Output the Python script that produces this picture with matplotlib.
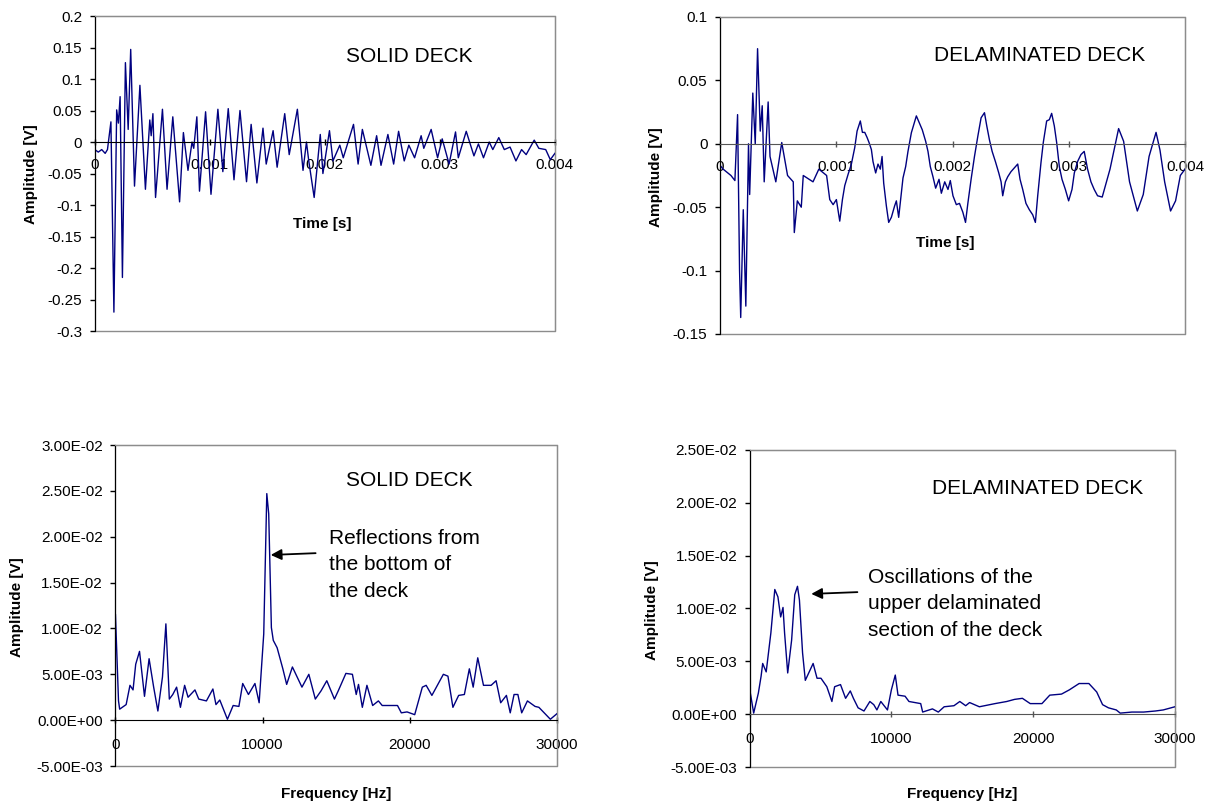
import matplotlib
matplotlib.use("Agg")
import matplotlib.pyplot as plt
from matplotlib.patches import Rectangle
from matplotlib.ticker import FuncFormatter, MultipleLocator
import numpy as np

plt.rcParams['font.family'] = ['Liberation Sans', 'DejaVu Sans']

# ---- time signals (time in ms, amplitude in V) ----
solid_t_ms = [0.0, 0.03, 0.06, 0.09, 0.11, 0.14, 0.166, 0.19, 0.205, 0.22,
              0.24, 0.266, 0.29, 0.312, 0.345, 0.392, 0.44, 0.478, 0.49, 0.505,
              0.528, 0.588, 0.628, 0.678, 0.737, 0.77, 0.81, 0.845, 0.86, 0.887,
              0.91, 0.963, 1.01, 1.07, 1.113, 1.16, 1.21, 1.262, 1.319, 1.359,
              1.409, 1.462, 1.49, 1.55, 1.585, 1.651, 1.69, 1.761, 1.81, 1.84,
              1.86, 1.907, 1.96, 1.983, 2.04, 2.07, 2.13, 2.16, 2.249, 2.289,
              2.326, 2.4, 2.45, 2.488, 2.548, 2.598, 2.641, 2.69, 2.73, 2.78,
              2.837, 2.86, 2.924, 2.98, 3.02, 3.08, 3.136, 3.16, 3.229, 3.296,
              3.335, 3.379, 3.429, 3.46, 3.512, 3.56, 3.61, 3.661, 3.71, 3.75,
              3.82, 3.86, 3.92, 3.96, 4.0]
solid_v = [-0.012, -0.016, -0.012, -0.018, -0.012, 0.032, -0.27, 0.051, 0.03, 0.072,
           -0.215, 0.126, 0.02, 0.147, -0.07, 0.09, -0.075, 0.035, 0.01, 0.045,
           -0.088, 0.052, -0.075, 0.04, -0.095, 0.015, -0.045, 0.0, -0.01, 0.04,
           -0.078, 0.048, -0.083, 0.052, -0.047, 0.053, -0.06, 0.05, -0.063, 0.028,
           -0.065, 0.022, -0.035, 0.018, -0.04, 0.045, -0.02, 0.052, -0.045, 0.0,
           -0.03, -0.088, 0.012, -0.05, 0.018, -0.03, -0.005, -0.025, 0.028, -0.035,
           0.02, -0.037, 0.01, -0.037, 0.012, -0.035, 0.017, -0.03, -0.005, -0.025,
           0.01, -0.01, 0.02, -0.025, 0.005, -0.035, 0.016, -0.025, 0.017, -0.022,
           -0.003, -0.025, 0.0, -0.012, 0.007, -0.012, -0.008, -0.03, -0.012, -0.02,
           0.003, -0.01, -0.012, -0.028, -0.018]

delam_t_ms = [0.0, 0.027, 0.094, 0.128, 0.151, 0.168, 0.178, 0.2, 0.222, 0.245,
              0.255, 0.282, 0.303, 0.323, 0.346, 0.363, 0.38, 0.414, 0.43, 0.48,
              0.531, 0.581, 0.63, 0.639, 0.665, 0.699, 0.716, 0.80, 0.85, 0.917,
              0.944, 0.973, 1.001, 1.030, 1.053, 1.073, 1.102, 1.130, 1.159, 1.179,
              1.207, 1.225, 1.245, 1.265, 1.282, 1.302, 1.316, 1.339, 1.359, 1.379,
              1.394, 1.408, 1.431, 1.451, 1.474, 1.502, 1.517, 1.537, 1.554, 1.574,
              1.597, 1.617, 1.646, 1.666, 1.689, 1.712, 1.740, 1.769, 1.789, 1.809,
              1.832, 1.855, 1.884, 1.904, 1.933, 1.961, 1.981, 2.004, 2.033,
              2.060, 2.089, 2.112, 2.132, 2.160, 2.189, 2.218, 2.246, 2.275, 2.295,
              2.318, 2.341, 2.369, 2.398, 2.418, 2.432, 2.455, 2.475, 2.503, 2.532,
              2.561, 2.581, 2.604, 2.632, 2.661, 2.690, 2.713, 2.733, 2.761, 2.781,
              2.810, 2.833, 2.853, 2.876, 2.896, 2.919, 2.942, 2.971, 2.999, 3.028,
              3.048, 3.076, 3.105, 3.133, 3.162, 3.191, 3.219, 3.248,
              3.288, 3.355, 3.429, 3.472, 3.523, 3.59, 3.641, 3.691, 3.751, 3.785,
              3.825, 3.876, 3.919, 3.96, 4.0]
delam_v = [-0.017, -0.02, -0.025, -0.029, 0.023, -0.1, -0.137, -0.052, -0.128, 0.0,
           -0.04, 0.04, 0.0, 0.075, 0.01, 0.03, -0.03, 0.033, -0.01, -0.03,
           0.001, -0.025, -0.03, -0.07, -0.045, -0.05, -0.025, -0.03, -0.02, -0.025,
           -0.044, -0.048, -0.044, -0.061, -0.044, -0.033, -0.024, -0.016, -0.003, 0.010,
           0.018, 0.009, 0.009, 0.005, 0.001, -0.0045, -0.014, -0.023, -0.016, -0.020,
           -0.010, -0.031, -0.049, -0.062, -0.058, -0.049, -0.045, -0.058, -0.044, -0.027,
           -0.018, -0.006, 0.0087, 0.015, 0.022, 0.017, 0.011, 0.002, -0.006, -0.018,
           -0.026, -0.035, -0.028, -0.039, -0.030, -0.036, -0.029, -0.041, -0.048,
           -0.047, -0.054, -0.062, -0.047, -0.028, -0.010, 0.006, 0.0205, 0.0245, 0.014,
           0.003, -0.006, -0.014, -0.023, -0.030, -0.041, -0.030, -0.026, -0.022, -0.019,
           -0.016, -0.028, -0.036, -0.047, -0.052, -0.056, -0.062, -0.041, -0.015, 0.001,
           0.018, 0.019, 0.024, 0.014, 0.001, -0.018, -0.028, -0.036, -0.045, -0.036,
           -0.023, -0.014, -0.0085, -0.006, -0.020, -0.030, -0.036, -0.041,
           -0.042, -0.02, 0.012, 0.002, -0.03, -0.053, -0.04, -0.01, 0.009, -0.005,
           -0.03, -0.053, -0.045, -0.025, -0.02]

# ---- spectra (frequency in Hz, amplitude in V) ----
solid_f = [0, 208, 286, 727, 987, 1195, 1377, 1636, 1974, 2286,
           2597, 2883, 3195, 3428, 3662, 3896, 4156, 4416, 4701, 4935,
           5403, 5662, 6182, 6623, 6831, 7091, 7610, 8000, 8390, 8649,
           9039, 9480, 9766, 10078, 10286, 10416, 10597, 10727, 10987, 11377,
           11636, 12026, 12675, 13143, 13584, 13974, 14364, 14883, 15143, 15662,
           16104, 16364, 16519, 16779, 17091, 17481, 17870, 18130, 19169, 19429,
           19818, 20338, 20857, 21117, 21506, 22286, 22597, 22935, 23325, 23714,
           24052, 24312, 24623, 25013, 25532, 25870, 26182, 26571, 26831, 27091,
           27351, 27610, 28000, 28519, 28779, 29558, 30000]
solid_a = [0.0115, 0.0021, 0.0012, 0.0017, 0.0038, 0.0033, 0.0061, 0.0075, 0.0026, 0.0067,
           0.0036, 0.001, 0.0047, 0.0105, 0.0023, 0.0028, 0.0036, 0.0014, 0.0038, 0.0025,
           0.0033, 0.0023, 0.0021, 0.0034, 0.0017, 0.0022, 0.0001, 0.0016, 0.0015, 0.004,
           0.0028, 0.004, 0.0019, 0.0094, 0.0247, 0.0225, 0.0101, 0.0087, 0.0079, 0.0056,
           0.0039, 0.0058, 0.0036, 0.005, 0.0023, 0.0032, 0.0043, 0.0023, 0.0032, 0.0051,
           0.005, 0.0028, 0.0039, 0.0014, 0.0038, 0.0016, 0.0021, 0.0016, 0.0016, 0.0008,
           0.0009, 0.0006, 0.0036, 0.0038, 0.0027, 0.005, 0.0048, 0.0014, 0.0027, 0.0028,
           0.0056, 0.0036, 0.0068, 0.0038, 0.0038, 0.0043, 0.0019, 0.0027, 0.0008, 0.0028,
           0.0028, 0.0008, 0.0021, 0.0015, 0.0014, 0.0001, 0.0007]

delam_f = [0, 41, 276, 607, 800, 911, 1159, 1490, 1766, 1987,
           2180, 2346, 2456, 2677, 2953, 3174, 3367, 3505, 3726, 3919,
           4195, 4471, 4747, 5023, 5437, 5796, 5989, 6403, 6762, 7093,
           7314, 7645, 8060, 8474, 8750, 8971, 9247, 9716, 9992, 10268,
           10461, 10958, 11234, 12062, 12200, 12890, 13304, 13718, 14408, 14822,
           15236, 15512, 16202, 17306, 18134, 18686, 19238, 19790, 20618, 21170,
           21998, 22550, 23240, 23930, 24482, 24896, 25310, 25862, 26139, 26967,
           27795, 28623, 29175, 30000]
delam_a = [0.0226, 0.002, 0.0001, 0.002, 0.0036, 0.0048, 0.004, 0.0077, 0.0118, 0.0111,
           0.0092, 0.0101, 0.0077, 0.0039, 0.007, 0.0113, 0.0121, 0.0108, 0.0058, 0.0032,
           0.004, 0.0048, 0.0034, 0.0034, 0.0026, 0.0012, 0.0026, 0.0028, 0.0015, 0.0022,
           0.0015, 0.0006, 0.0003, 0.0012, 0.0009, 0.0004, 0.0012, 0.0004, 0.0023, 0.0037,
           0.0018, 0.0017, 0.0012, 0.001, 0.0002, 0.0005, 0.0002, 0.0007, 0.0008, 0.0012,
           0.0008, 0.0011, 0.0007, 0.001, 0.0012, 0.0014, 0.0015, 0.001, 0.001, 0.0018,
           0.0019, 0.0023, 0.0029, 0.0029, 0.0021, 0.0009, 0.0006, 0.0004, 0.0001, 0.0002,
           0.0002, 0.0003, 0.0004, 0.0007]

LINE = '#000080'
BORDER = '#8c8c8c'
TICK_FS = 11
LABEL_FS = 11
NOTE_FS = 15


def style_axes(ax, zero_color, yfmt, xpad):
    for side in ['top', 'right']:
        ax.spines[side].set_color(BORDER)
    ax.spines['left'].set_color('black')
    ax.spines['bottom'].set_position(('data', 0))
    ax.spines['bottom'].set_color(zero_color)
    ax.add_patch(Rectangle((0, 0), 1, 1, transform=ax.transAxes, fill=False,
                           edgecolor=BORDER, linewidth=1, clip_on=False, zorder=0))
    ax.tick_params(axis='y', direction='out', length=3.6, width=1, pad=5.5, labelsize=TICK_FS)
    ax.tick_params(axis='x', direction='inout', length=4, width=1, pad=xpad, labelsize=TICK_FS,
                   color=zero_color)
    ax.yaxis.set_major_formatter(FuncFormatter(yfmt))


def gfmt(v, pos):
    return '%g' % round(v, 6)


def efmt(v, pos):
    return '%.2E' % v


fig = plt.figure(figsize=(12.14, 8.05), dpi=100)

# top left: solid deck, time
ax1 = fig.add_axes([0.0781, 0.5888, 0.3790, 0.3913])
ax1.plot(np.array(solid_t_ms) * 1e-3, solid_v, color=LINE, lw=1.0)
ax1.set_xlim(0, 0.004)
ax1.set_ylim(-0.3, 0.2)
ax1.yaxis.set_major_locator(MultipleLocator(0.05))
ax1.xaxis.set_major_locator(MultipleLocator(0.001))
ax1.xaxis.set_major_formatter(FuncFormatter(gfmt))
style_axes(ax1, 'black', gfmt, 9.5)
ax1.set_ylabel('Amplitude [V]', fontsize=LABEL_FS, fontweight='bold')
ax1.yaxis.set_label_coords(-0.123, 0.498)
ax1.text(0.001975, -0.130, 'Time [s]', fontsize=LABEL_FS, fontweight='bold', ha='center', va='center')
ax1.text(0.002183, 0.1365, 'SOLID DECK', fontsize=NOTE_FS, ha='left', va='center')

# top right: delaminated deck, time
ax2 = fig.add_axes([0.5931, 0.5851, 0.3830, 0.3938])
ax2.plot(np.array(delam_t_ms) * 1e-3, delam_v, color=LINE, lw=1.0)
ax2.set_xlim(0, 0.004)
ax2.set_ylim(-0.15, 0.1)
ax2.yaxis.set_major_locator(MultipleLocator(0.05))
ax2.xaxis.set_major_locator(MultipleLocator(0.001))
ax2.xaxis.set_major_formatter(FuncFormatter(gfmt))
style_axes(ax2, '#555555', gfmt, 9.5)
ax2.set_ylabel('Amplitude [V]', fontsize=LABEL_FS, fontweight='bold')
ax2.yaxis.set_label_coords(-0.1235, 0.495)
ax2.text(0.00194, -0.0782, 'Time [s]', fontsize=LABEL_FS, fontweight='bold', ha='center', va='center')
ax2.text(0.001838, 0.070, 'DELAMINATED DECK', fontsize=NOTE_FS, ha='left', va='center')

# bottom left: solid deck, spectrum
ax3 = fig.add_axes([0.0951, 0.0484, 0.3636, 0.3988])
ax3.plot(solid_f, solid_a, color=LINE, lw=1.0)
ax3.set_xlim(0, 30000)
ax3.set_ylim(-0.005, 0.03)
ax3.yaxis.set_major_locator(MultipleLocator(0.005))
ax3.xaxis.set_major_locator(MultipleLocator(10000))
ax3.xaxis.set_major_formatter(FuncFormatter(gfmt))
style_axes(ax3, 'black', efmt, 11)
ax3.set_ylabel('Amplitude [V]', fontsize=LABEL_FS, fontweight='bold')
ax3.yaxis.set_label_coords(-0.208, 0.495)
ax3.set_xlabel('Frequency [Hz]', fontsize=LABEL_FS, fontweight='bold')
ax3.xaxis.set_label_coords(0.5, -0.066)
ax3.text(15662, 0.02618, 'SOLID DECK', fontsize=NOTE_FS, ha='left', va='center')
ax3.annotate('', xy=(10364, 0.0180), xytext=(13792, 0.01822),
             arrowprops=dict(arrowstyle='-|>', color='black', lw=1.3, mutation_scale=16))
ax3.text(14494, 0.02089, 'Reflections from\nthe bottom of\nthe deck', fontsize=NOTE_FS,
         ha='left', va='top', linespacing=1.5)

# bottom right: delaminated deck, spectrum
ax4 = fig.add_axes([0.6176, 0.0472, 0.3502, 0.3938])
ax4.plot(delam_f, delam_a, color=LINE, lw=1.0)
ax4.set_xlim(0, 30000)
ax4.set_ylim(-0.005, 0.025)
ax4.yaxis.set_major_locator(MultipleLocator(0.005))
ax4.xaxis.set_major_locator(MultipleLocator(10000))
ax4.xaxis.set_major_formatter(FuncFormatter(gfmt))
style_axes(ax4, '#555555', efmt, 11)
ax4.set_ylabel('Amplitude [V]', fontsize=LABEL_FS, fontweight='bold')
ax4.yaxis.set_label_coords(-0.214, 0.495)
ax4.set_xlabel('Frequency [Hz]', fontsize=LABEL_FS, fontweight='bold')
ax4.xaxis.set_label_coords(0.5, -0.064)
ax4.text(12845, 0.02131, 'DELAMINATED DECK', fontsize=NOTE_FS, ha='left', va='center')
ax4.annotate('', xy=(4144, 0.01137), xytext=(7790, 0.01156),
             arrowprops=dict(arrowstyle='-|>', color='black', lw=1.3, mutation_scale=16))
ax4.text(8370, 0.01387, 'Oscillations of the\nupper delaminated\nsection of the deck', fontsize=NOTE_FS,
         ha='left', va='top', linespacing=1.5)

plt.savefig('out.png', dpi=100)
